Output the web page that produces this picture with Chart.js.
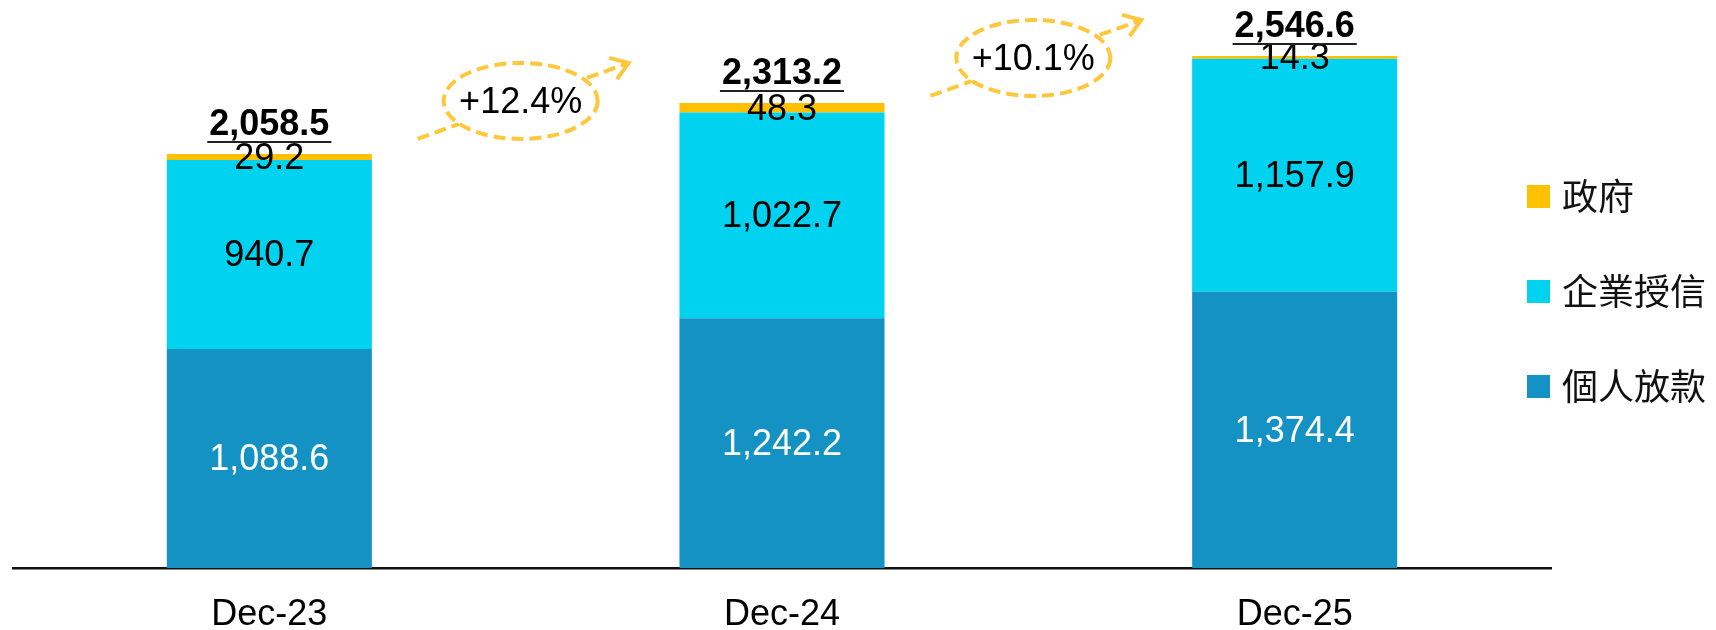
<!DOCTYPE html>
<html>
<head>
<meta charset="utf-8">
<script src="https://cdn.jsdelivr.net/npm/chart.js@4.4.1/dist/chart.umd.min.js"></script>
<style>
  html, body { margin: 0; padding: 0; background: #fff; }
  #wrap { width: 1716px; height: 630px; }
</style>
</head>
<body>
<div id="wrap"><canvas id="loanChart" width="1716" height="630"></canvas></div>
<script>
const categories = ['Dec-23', 'Dec-24', 'Dec-25'];
const seriesNames = ['個人放款', '企業授信', '政府'];
const personalLoans = [1088.6, 1242.2, 1374.4];
const corporateCredit = [940.7, 1022.7, 1157.9];
const government = [29.2, 48.3, 14.3];
const totals = [2058.5, 2313.2, 2546.6];
const growthLabels = ['+12.4%', '+10.1%'];

const colors = ['#1592C4', '#00D2EF', '#FFC000'];
const latinFont = '"Liberation Sans", Arial, sans-serif';
const cjkFont = '"Noto Sans CJK TC", "Noto Sans CJK SC", sans-serif';

function fmt(v) {
    return v.toLocaleString('en-US', { minimumFractionDigits: 1, maximumFractionDigits: 1 });
}

// value labels inside the segments and the underlined totals on top
const labelPlugin = {
    id: 'labels',
    afterDatasetsDraw(chart) {
        const ctx = chart.ctx;
        ctx.save();
        ctx.textAlign = 'center';
        ctx.textBaseline = 'middle';
        ctx.font = '36px ' + latinFont;
        chart.data.datasets.forEach((ds, i) => {
            const meta = chart.getDatasetMeta(i);
            meta.data.forEach((bar, j) => {
                ctx.fillStyle = i === 0 ? '#fff' : '#000';
                ctx.fillText(fmt(ds.data[j]), bar.x, (bar.y + bar.base) / 2 + 2);
            });
        });
        const top = chart.getDatasetMeta(chart.data.datasets.length - 1);
        ctx.font = 'bold 36px ' + latinFont;
        ctx.textBaseline = 'alphabetic';
        top.data.forEach((bar, j) => {
            const txt = fmt(totals[j]);
            const w = ctx.measureText(txt).width;
            ctx.fillStyle = '#000';
            ctx.fillText(txt, bar.x, bar.y - 19);
            ctx.strokeStyle = '#222';
            ctx.lineWidth = 2;
            ctx.beginPath();
            ctx.moveTo(bar.x - w / 2 - 2, bar.y - 12);
            ctx.lineTo(bar.x + w / 2 + 2, bar.y - 12);
            ctx.stroke();
        });
        ctx.restore();
    }
};

// dashed growth bubbles with arrows between the bars
const growthPlugin = {
    id: 'growth',
    afterDraw(chart) {
        const ctx = chart.ctx;
        const bars = chart.getDatasetMeta(0).data;
        const y = chart.scales.y;
        const stroke = '#FFC83C';
        ctx.save();
        growthLabels.forEach((label, i) => {
            const cx = (bars[i].x + bars[i + 1].x) / 2 - 5;
            const cy = y.getPixelForValue(totals[i + 1]) + (i === 0 ? -2 : 2);
            const x0 = cx - 103, y0 = cy + 38, x1 = cx + 108, y1 = cy - 38;

            ctx.strokeStyle = stroke;
            ctx.lineWidth = 4;
            ctx.setLineDash([12, 6]);
            ctx.beginPath();
            ctx.moveTo(x0, y0);
            ctx.lineTo(x1, y1);
            ctx.stroke();

            ctx.setLineDash([]);
            const ang = Math.atan2(y1 - y0, x1 - x0);
            ctx.beginPath();
            ctx.moveTo(x1 - 20 * Math.cos(ang - 0.6), y1 - 20 * Math.sin(ang - 0.6));
            ctx.lineTo(x1, y1);
            ctx.lineTo(x1 - 20 * Math.cos(ang + 0.6), y1 - 20 * Math.sin(ang + 0.6));
            ctx.stroke();

            ctx.beginPath();
            ctx.ellipse(cx, cy, 77, 38, 0, 0, Math.PI * 2);
            ctx.fillStyle = '#fff';
            ctx.fill();
            ctx.setLineDash([12, 6]);
            ctx.stroke();

            ctx.setLineDash([]);
            ctx.fillStyle = '#000';
            ctx.font = '36px ' + latinFont;
            ctx.textAlign = 'center';
            ctx.textBaseline = 'middle';
            ctx.fillText(label, cx, cy + 2);
        });
        ctx.restore();
    }
};

// legend on the right, top item is the top of the stack
const legendPlugin = {
    id: 'sideLegend',
    afterDraw(chart) {
        const ctx = chart.ctx;
        ctx.save();
        ctx.font = '36px ' + cjkFont;
        ctx.textBaseline = 'middle';
        ctx.textAlign = 'left';
        const n = chart.data.datasets.length;
        for (let k = 0; k < n; k++) {
            const ds = chart.data.datasets[n - 1 - k];
            const top = 185 + k * 95;
            ctx.fillStyle = ds.backgroundColor;
            ctx.fillRect(1527, top, 23, 23);
            ctx.fillStyle = '#111';
            ctx.fillText(ds.label, 1562, top + 11);
        }
        ctx.restore();
    }
};

const chart = new Chart(document.getElementById('loanChart').getContext('2d'), {
    type: 'bar',
    data: {
        labels: categories,
        datasets: [
            { label: seriesNames[0], data: personalLoans, backgroundColor: colors[0] },
            { label: seriesNames[1], data: corporateCredit, backgroundColor: colors[1] },
            { label: seriesNames[2], data: government, backgroundColor: colors[2] }
        ]
    },
    options: {
        responsive: false,
        animation: false,
        devicePixelRatio: 1,
        layout: { padding: { left: 13, right: 165, top: 5, bottom: 0 } },
        datasets: { bar: { barPercentage: 0.4, categoryPercentage: 1.0, borderWidth: 0 } },
        plugins: { legend: { display: false }, tooltip: { enabled: false } },
        scales: {
            x: {
                stacked: true,
                grid: { display: false, drawTicks: false },
                border: { display: true, color: '#111', width: 2.5 },
                ticks: { color: '#000', padding: 25, font: { size: 36, family: latinFont } },
                afterFit(scale) { scale.height = 62; }
            },
            y: { stacked: true, display: false, min: 0, max: 2800 }
        }
    },
    plugins: [labelPlugin, growthPlugin, legendPlugin]
});
</script>
</body>
</html>
